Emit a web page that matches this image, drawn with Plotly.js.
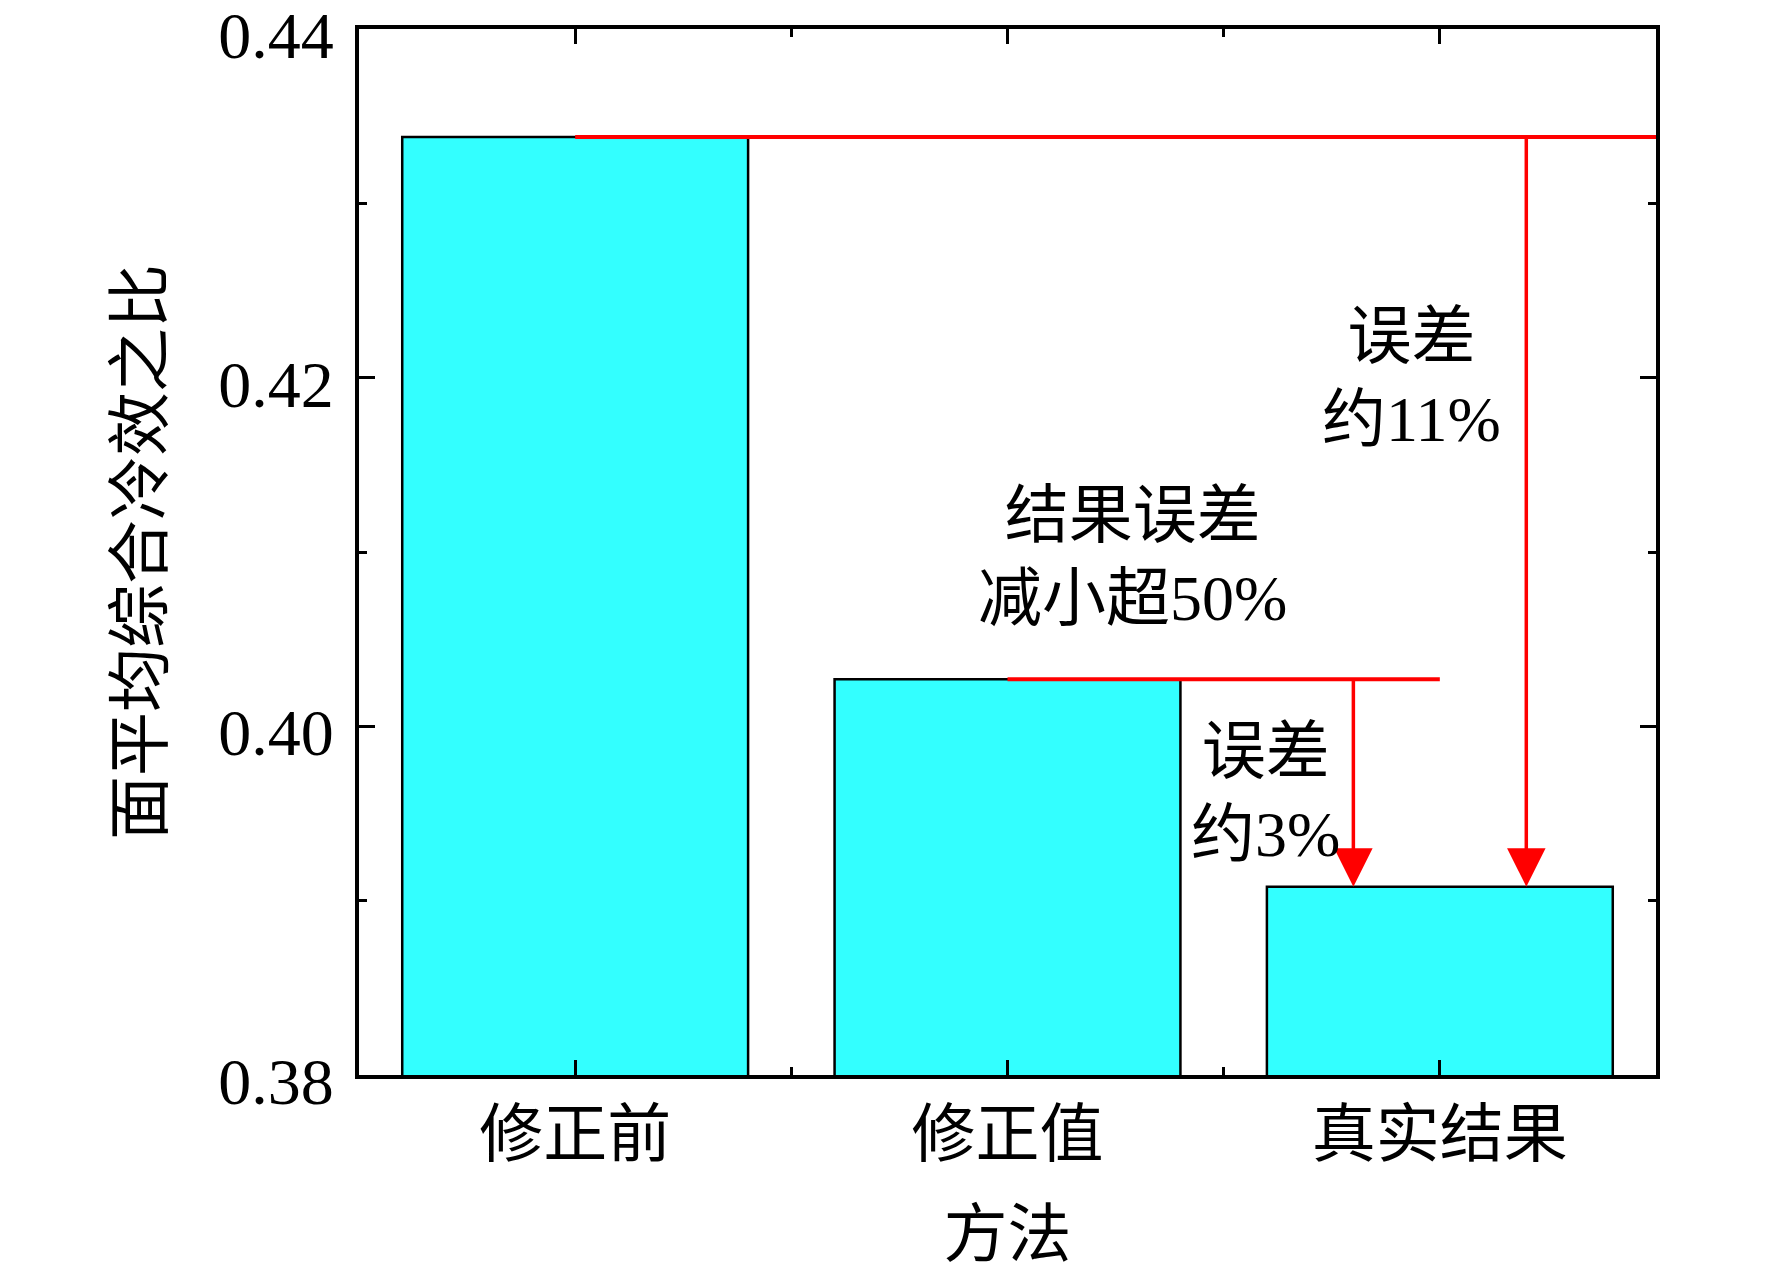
<!DOCTYPE html>
<html>
<head>
<meta charset="utf-8">
<script src="https://cdn.plot.ly/plotly-3.0.1.min.js"></script>
<style>
  html, body { margin: 0; padding: 0; background: #fff; }
  #chart { width: 1772px; height: 1270px; }
</style>
</head>
<body>
<div id="chart"></div>
<script>
// values
const categories = ['修正前', '修正值', '真实结果'];
const ratios = [0.4338, 0.4027, 0.3908];
const yTicks = [0.38, 0.40, 0.42, 0.44];

const noteTexts = ['误差<br>约11%', '结果误差<br>减小超50%', '误差<br>约3%'];

const FONT = '"Liberation Serif", "Times New Roman", "Noto Sans CJK SC", serif';
const RED = '#ff0000';

const xIdx = categories.map((_, i) => i);
const truth = ratios[2];

const traces = [{
    type: 'bar',
    x: xIdx,
    y: ratios,
    width: 0.8,
    marker: { color: '#33ffff', line: { color: '#000', width: 2.5 } },
    hoverinfo: 'skip',
    showlegend: false
}];

// red reference lines from the bar tops
const shapes = [
    { type: 'line', xref: 'x', yref: 'y', x0: xIdx[0], x1: 2.5, y0: ratios[0], y1: ratios[0],
      line: { color: RED, width: 4 } },
    { type: 'line', xref: 'x', yref: 'y', x0: xIdx[1], x1: xIdx[2], y0: ratios[1], y1: ratios[1],
      line: { color: RED, width: 4 } }
];

// arrows pointing down to the true result
const arrow = (x, from) => ({
    x: x, y: truth, ax: x, ay: from,
    xref: 'x', yref: 'y', axref: 'x', ayref: 'y',
    text: '', showarrow: true,
    arrowhead: 2, arrowsize: 2.2, arrowwidth: 3.5, arrowcolor: RED, standoff: 0
});

const note = (x, y, text) => ({
    x: x, y: y, xref: 'x', yref: 'y', text: text, showarrow: false,
    font: { family: FONT, size: 64, color: '#000' },
    xanchor: 'center', yanchor: 'middle'
});

const annotations = [
    arrow(xIdx[2] - 0.2, ratios[1]),
    arrow(xIdx[2] + 0.2, ratios[0]),
    note(1.934, 0.4200, noteTexts[0]),
    note(1.288, 0.4097, noteTexts[1]),
    note(1.596, 0.3962, noteTexts[2])
];

const layout = {
    width: 1772,
    height: 1270,
    paper_bgcolor: '#fff',
    plot_bgcolor: '#fff',
    margin: { l: 359, r: 116, t: 29, b: 195 },
    font: { family: FONT, color: '#000' },
    showlegend: false,
    xaxis: {
        range: [-0.5, 2.5],
        tickmode: 'array',
        tickvals: xIdx,
        ticktext: categories,
        ticks: 'inside',
        ticklen: 15,
        tickwidth: 3,
        tickcolor: '#000',
        minor: { ticks: 'inside', tick0: -0.5, dtick: 1, ticklen: 8, tickwidth: 3, tickcolor: '#000' },
        showline: true,
        linecolor: '#000',
        linewidth: 4,
        mirror: 'allticks',
        showgrid: false,
        zeroline: false,
        tickfont: { family: FONT, size: 64, color: '#000' },
        title: { text: '方法', font: { family: FONT, size: 64, color: '#000' }, standoff: 44 }
    },
    yaxis: {
        range: [0.38, 0.44],
        tickmode: 'array',
        tickvals: yTicks,
        tickformat: '.2f',
        ticks: 'inside',
        ticklen: 16,
        tickwidth: 3,
        tickcolor: '#000',
        minor: { ticks: 'inside', dtick: 0.01, ticklen: 8, tickwidth: 3, tickcolor: '#000' },
        showline: true,
        linecolor: '#000',
        linewidth: 4,
        mirror: 'allticks',
        showgrid: false,
        zeroline: false,
        ticklabeloverflow: 'allow',
        ticklabelstandoff: 8,
        ticklabelshift: 6,
        tickfont: { family: FONT, size: 66, color: '#000' },
        title: { text: '面平均综合冷效之比', font: { family: FONT, size: 64, color: '#000' }, standoff: 36 }
    },
    shapes: shapes,
    annotations: annotations
};

Plotly.newPlot('chart', traces, layout, { displayModeBar: false, staticPlot: true });
</script>
</body>
</html>
